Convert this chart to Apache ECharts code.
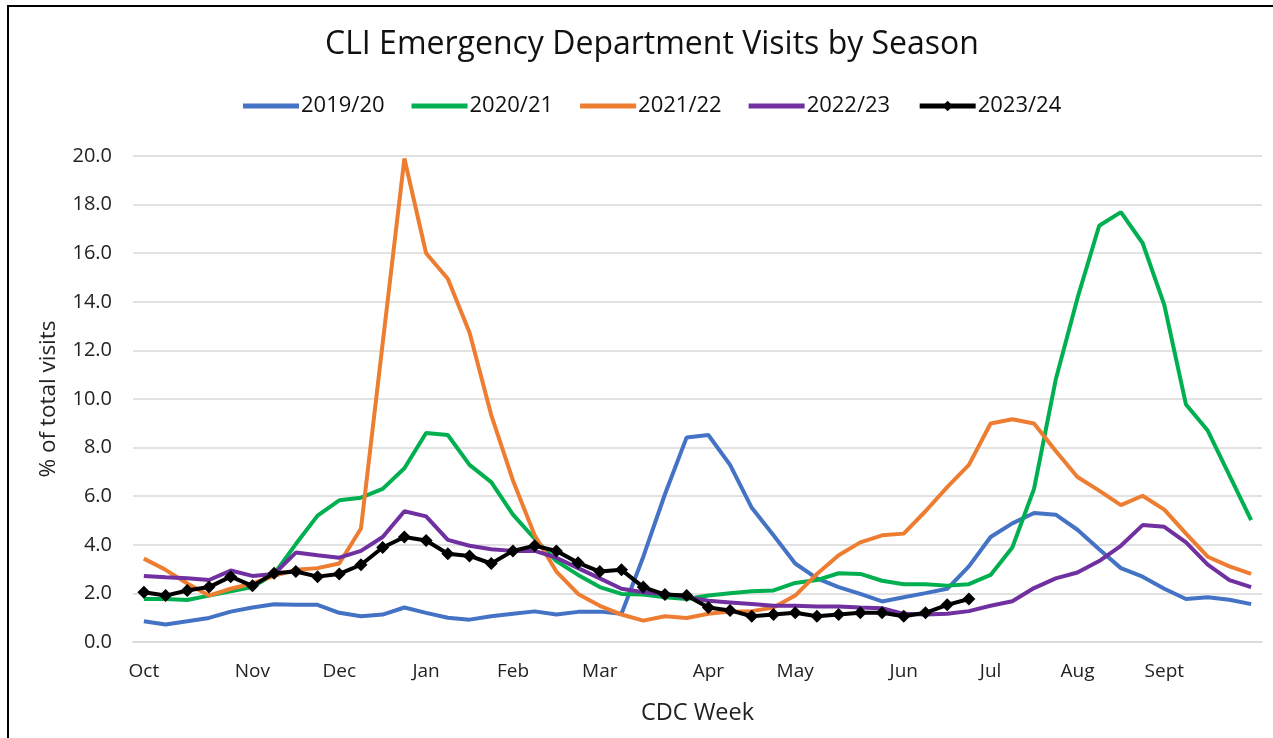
<!DOCTYPE html>
<html>
<head>
<meta charset="utf-8">
<script src="https://cdn.jsdelivr.net/npm/echarts@6/dist/echarts.min.js"></script>
<style>
  html, body { margin: 0; padding: 0; background: #fff; }
  #container { width: 1273px; height: 738px; }
</style>
</head>
<body>
<div id="container"></div>
<script>
// CDC weeks 40..52 then 1..39
var weeks = [40,41,42,43,44,45,46,47,48,49,50,51,52,1,2,3,4,5,6,7,8,9,10,11,12,13,14,15,16,17,18,19,20,21,22,23,24,25,26,27,28,29,30,31,32,33,34,35,36,37,38,39];
// month label shown under a given week index
var monthIdx = [0, 5, 9, 13, 17, 21, 26, 30, 35, 39, 43, 47];
var monthNames = ['Oct','Nov','Dec','Jan','Feb','Mar','Apr','May','Jun','Jul','Aug','Sept'];

var s2019 = [0.85,0.72,0.85,0.99,1.25,1.42,1.55,1.53,1.53,1.2,1.06,1.13,1.42,1.2,1.0,0.92,1.06,1.16,1.26,1.13,1.24,1.25,1.16,3.5,6.08,8.42,8.52,7.29,5.52,4.39,3.23,2.62,2.26,1.98,1.67,1.84,2.01,2.19,3.11,4.32,4.88,5.31,5.24,4.62,3.82,3.04,2.69,2.19,1.77,1.84,1.74,1.56];
var s2020 = [1.77,1.77,1.73,1.91,2.09,2.26,2.8,4.03,5.2,5.83,5.94,6.3,7.15,8.6,8.52,7.29,6.58,5.24,4.25,3.33,2.76,2.26,1.98,1.95,1.84,1.77,1.91,2.01,2.09,2.12,2.43,2.55,2.83,2.8,2.52,2.38,2.38,2.32,2.38,2.76,3.89,6.3,10.8,14.15,17.13,17.69,16.42,13.87,9.77,8.7,6.86,5.02];
var s2021 = [3.43,2.97,2.41,1.91,2.19,2.41,2.72,2.97,3.04,3.23,4.67,12.3,19.9,16.0,14.95,12.74,9.34,6.65,4.39,2.9,1.98,1.49,1.13,0.88,1.06,0.99,1.16,1.25,1.27,1.42,1.91,2.8,3.57,4.1,4.39,4.46,5.38,6.37,7.29,8.99,9.17,8.99,7.86,6.79,6.23,5.63,6.02,5.45,4.46,3.51,3.11,2.8];
var s2022 = [2.72,2.66,2.62,2.55,2.94,2.72,2.8,3.68,3.57,3.47,3.75,4.32,5.38,5.17,4.2,3.96,3.82,3.75,3.75,3.47,3.04,2.62,2.19,2.05,1.98,1.84,1.7,1.63,1.56,1.49,1.49,1.46,1.46,1.42,1.39,1.16,1.13,1.16,1.27,1.49,1.68,2.22,2.62,2.86,3.33,3.96,4.81,4.74,4.1,3.18,2.55,2.26];
var s2023 = [2.05,1.91,2.12,2.26,2.69,2.31,2.83,2.9,2.69,2.8,3.18,3.89,4.32,4.18,3.63,3.54,3.23,3.75,3.96,3.75,3.26,2.9,2.97,2.26,1.95,1.91,1.42,1.3,1.06,1.13,1.2,1.06,1.13,1.2,1.2,1.06,1.2,1.53,1.77];

var seasons = ['2019/20','2020/21','2021/22','2022/23','2023/24'];
var colors = ['#4472C4','#00B050','#ED7D31','#7030A0','#000000'];
var values = [s2019, s2020, s2021, s2022, s2023];

var dom = document.getElementById('container');
var myChart = echarts.init(dom);

var font = 'Open Sans';
var series = seasons.map(function (name, k) {
    var last = k === 4;
    return {
        name: name,
        type: 'line',
        data: values[k],
        symbol: last ? 'diamond' : 'none',
        symbolSize: 13,
        showSymbol: last,
        itemStyle: { color: colors[k] },
        lineStyle: { color: colors[k], width: 4 },
        z: last ? 10 : 2 + k,
        animation: false
    };
});

var legendData = seasons.map(function (name, k) {
    if (k < 4) {
        return { name: name, icon: 'path://M0,0H56V5H0Z' };
    }
    return { name: name, lineStyle: { width: 5 } };
});

var option = {
    backgroundColor: '#fff',
    textStyle: { fontFamily: font },
    title: {
        text: 'CLI Emergency Department Visits by Season',
        left: 320,
        top: 24,
        textStyle: { fontFamily: font, fontSize: 32, fontWeight: 'normal', color: '#111' }
    },
    legend: {
        top: 90,
        left: 238,
        itemWidth: 56,
        itemHeight: 13,
        itemGap: 27,
        data: legendData,
        textStyle: { fontFamily: font, fontSize: 22, color: '#111', padding: [0, 0, 0, -3] }
    },
    grid: { left: 133, right: 11, top: 156, bottom: 96 },
    xAxis: {
        type: 'category',
        data: weeks,
        boundaryGap: true,
        name: 'CDC Week',
        nameLocation: 'middle',
        nameGap: 59,
        nameTextStyle: { fontFamily: font, fontSize: 23.5, color: '#222' },
        axisLine: { lineStyle: { color: '#d9d9d9', width: 1.5 } },
        axisTick: { show: false },
        axisLabel: {
            interval: function (i) { return monthIdx.indexOf(i) >= 0; },
            formatter: function (v, i) {
                var m = monthIdx.indexOf(i);
                return m >= 0 ? monthNames[m] : '';
            },
            margin: 20,
            fontFamily: font,
            fontSize: 19,
            color: '#222'
        }
    },
    yAxis: {
        type: 'value',
        min: 0,
        max: 20,
        interval: 2,
        name: '% of total visits',
        nameLocation: 'middle',
        nameGap: 73,
        nameTextStyle: { fontFamily: font, fontSize: 22.5, color: '#222' },
        axisLine: { show: false },
        axisTick: { show: false },
        splitLine: { lineStyle: { color: '#d9d9d9', width: 1.5 } },
        axisLabel: {
            formatter: function (v) { return v.toFixed(1); },
            margin: 21,
            fontFamily: font,
            fontSize: 20,
            color: '#222'
        }
    },
    graphic: [{
        type: 'rect',
        shape: { x: 8, y: 6, width: 1300, height: 800 },
        style: { fill: null, stroke: '#000', lineWidth: 2 },
        silent: true
    }],
    series: series
};

myChart.setOption(option, true);
</script>
</body>
</html>
